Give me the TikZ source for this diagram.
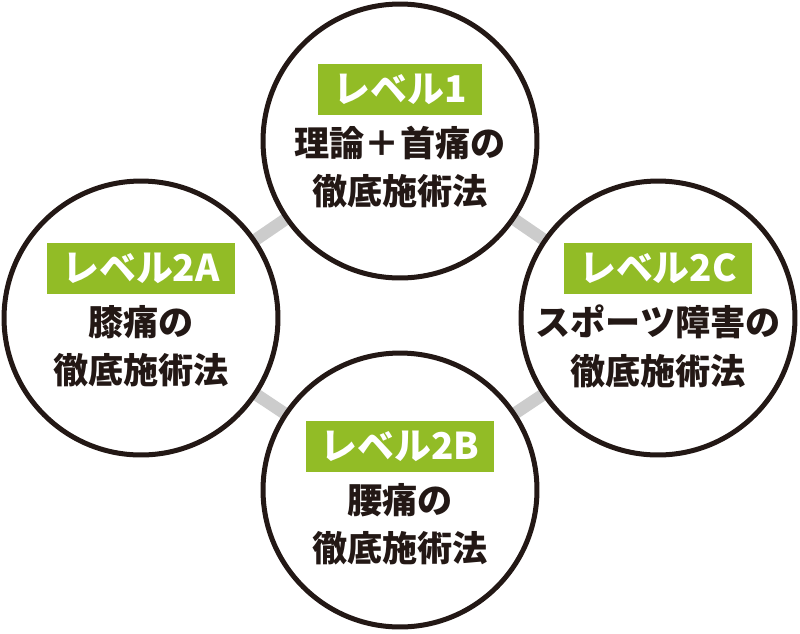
\documentclass[tikz,border=0pt]{standalone}
\usepackage{fontspec}
\newfontfamily\jpfont{Noto Sans CJK JP}
\usetikzlibrary{positioning,backgrounds}
\definecolor{verde}{RGB}{146,188,38}
\definecolor{nero}{RGB}{35,24,21}
\definecolor{grigio}{RGB}{204,204,204}

\begin{document}
\begin{tikzpicture}[x=0.02cm, y=-0.02cm,
    cerchio/.style={circle, draw=nero, line width=2.85pt, fill=white, minimum size=5.48cm, inner sep=0pt},
    livello/.style={fill=verde, text=white, font=\jpfont\bfseries\fontsize{21}{21}\selectfont, minimum height=1.02cm, inner xsep=0.3cm},
    testo/.style={text=nero, align=center, inner sep=0pt, font=\jpfont\bfseries\fontsize{20}{27.5}\selectfont},
    ponte/.style={grigio, line width=7pt}]
    \useasboundingbox (0,0) rectangle (800,633);

    % Cerchi
    \node[cerchio] (lv1) at (400,141) {};
    \node[cerchio] (lv2a) at (141,318) {};
    \node[cerchio] (lv2b) at (400,490) {};
    \node[cerchio] (lv2c) at (658,318) {};

    % Collegamenti grigi
    \begin{scope}[on background layer]
        \draw[ponte] (lv1.center) -- (lv2a.center) -- (lv2b.center) -- (lv2c.center) -- cycle;
    \end{scope}

    % Etichette verdi
    \node[livello] (e1) at (400,89) {レベル1};
    \node[livello] (e2a) at (141,268) {レベル2A};
    \node[livello] (e2b) at (400,446) {レベル2B};
    \node[livello] (e2c) at (658,268) {レベル2C};

    % Testi
    \node[testo, below=0.22cm of e1] {理論＋首痛の\\徹底施術法};
    \node[testo, below=0.22cm of e2a] {膝痛の\\徹底施術法};
    \node[testo, below=0.22cm of e2b] {腰痛の\\徹底施術法};
    \node[testo, below=0.22cm of e2c] {スポーツ障害の\\徹底施術法};

\end{tikzpicture}
\end{document}
